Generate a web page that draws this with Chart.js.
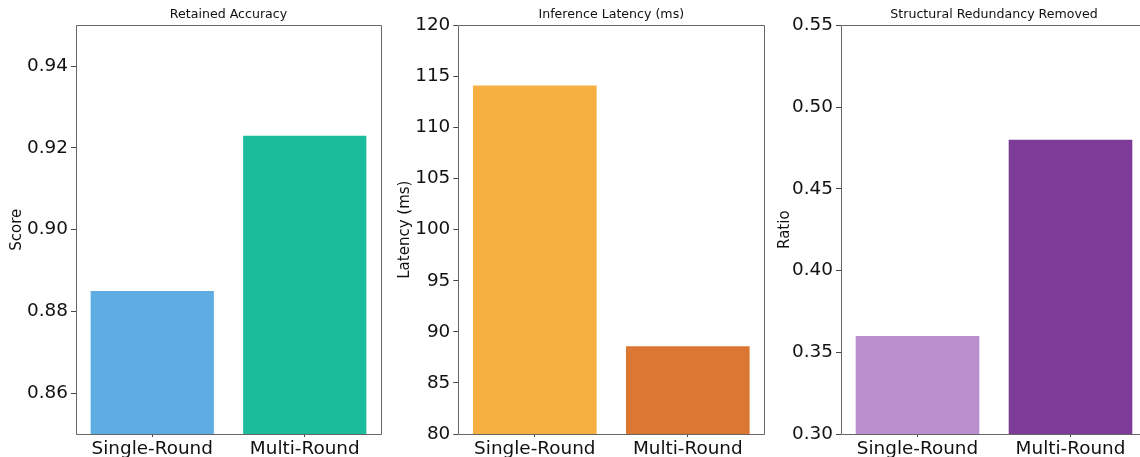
<!DOCTYPE html>
<html>
<head>
<meta charset="utf-8">
<script src="https://cdn.jsdelivr.net/npm/chart.js@4.4.1/dist/chart.umd.min.js"></script>
<style>
  html, body { margin: 0; padding: 0; background: #fff; overflow: hidden; }
  body { width: 1140px; height: 457px; position: relative; }
  .panel { position: absolute; top: 0; height: 457px; }
</style>
</head>
<body>
<div class="panel" style="left:0px;width:385px"><canvas id="c1"></canvas></div>
<div class="panel" style="left:385px;width:385px"><canvas id="c2"></canvas></div>
<div class="panel" style="left:770px;width:370px;overflow:hidden"><div style="width:400px;height:457px;position:relative"><canvas id="c3"></canvas></div></div>
<script>
// Shared categories
const methods = ['Single-Round', 'Multi-Round'];

// Retained accuracy
const accuracyValues = [0.885, 0.923];
const accuracyColors = ['#5DADE2', '#1ABC9C'];
const accuracyTicks = [0.86, 0.88, 0.90, 0.92, 0.94];

// Inference latency (ms)
const latencyValues = [114.1, 88.6];
const latencyColors = ['#F5B041', '#DC7633'];
const latencyTicks = [80, 85, 90, 95, 100, 105, 110, 115, 120];

// Structural redundancy removed
const redundancyValues = [0.36, 0.48];
const redundancyColors = ['#BB8FCE', '#7D3C98'];
const redundancyTicks = [0.30, 0.35, 0.40, 0.45, 0.50, 0.55];

const FONT = 'DejaVu Sans';

// Draws the spines around the plot area
const framePlugin = {
  id: 'frame',
  afterDatasetsDraw(chart, args, opts) {
    const { ctx, chartArea: a } = chart;
    const l = Math.round(a.left) + 0.5, t = Math.round(a.top) + 0.5;
    const r = Math.round(a.right) + 0.5, b = Math.round(a.bottom) + 0.5;
    ctx.save();
    ctx.strokeStyle = '#666';
    ctx.lineWidth = 1;
    ctx.beginPath();
    ctx.moveTo(r, t); ctx.lineTo(l, t); ctx.lineTo(l, b); ctx.lineTo(r, b);
    if (opts.right !== false) { ctx.moveTo(r, t); ctx.lineTo(r, b); }
    ctx.stroke();
    ctx.restore();
  }
};

function makePanel(id, opts) {
  const area = opts.area; // plot-area placement inside the canvas
  new Chart(document.getElementById(id), {
    type: 'bar',
    data: {
      labels: methods,
      datasets: [{
        data: opts.values,
        backgroundColor: opts.colors,
        borderWidth: 0,
        barPercentage: 0.808,
        categoryPercentage: 1.0
      }]
    },
    options: {
      responsive: true,
      maintainAspectRatio: false,
      animation: false,
      layout: { padding: { left: area.pad, right: area.right, top: 0, bottom: 0 } },
      plugins: {
        legend: { display: false },
        tooltip: { enabled: false },
        frame: { right: opts.rightSpine !== false },
        title: {
          display: true,
          text: opts.title,
          fullSize: false,
          color: '#111',
          font: { family: FONT, size: 12.6, weight: 'normal' },
          padding: { top: 7.4, bottom: 2.8 }
        }
      },
      scales: {
        x: {
          type: 'category',
          offset: true,
          afterFit(s) { s.height = 23; },
          grid: { display: true, offset: false, drawOnChartArea: false, drawTicks: true, tickLength: 3, color: '#444' },
          border: { display: false },
          ticks: { color: '#111', padding: 1, font: { family: FONT, size: 18.4 } }
        },
        y: {
          type: 'linear',
          min: opts.min,
          max: opts.max,
          afterFit(s) { s.width = area.left - area.pad; },
          afterBuildTicks(s) { s.ticks = opts.ticks.map(v => ({ value: v })); },
          grid: { display: true, drawOnChartArea: false, drawTicks: true, tickLength: 5, color: '#444' },
          border: { display: false },
          title: {
            display: true,
            text: opts.ylabel,
            color: '#111',
            font: { family: FONT, size: 15 },
            padding: { top: 0, bottom: 0 }
          },
          ticks: {
            color: '#111',
            padding: 3,
            font: { family: FONT, size: 18.4 },
            callback: v => Number(v).toFixed(opts.decimals)
          }
        }
      }
    },
    plugins: [framePlugin]
  });
}

makePanel('c1', {
  title: 'Retained Accuracy', ylabel: 'Score',
  values: accuracyValues, colors: accuracyColors, ticks: accuracyTicks,
  min: 0.85, max: 0.95, decimals: 2,
  area: { pad: 8.2, left: 76, right: 4 }
});
makePanel('c2', {
  title: 'Inference Latency (ms)', ylabel: 'Latency (ms)',
  values: latencyValues, colors: latencyColors, ticks: latencyTicks,
  min: 80, max: 120, decimals: 0,
  area: { pad: 11.2, left: 73.3, right: 5.7 }
});
makePanel('c3', {
  title: 'Structural Redundancy Removed', ylabel: 'Ratio',
  values: redundancyValues, colors: redundancyColors, ticks: redundancyTicks,
  min: 0.30, max: 0.55, decimals: 2, rightSpine: false,
  area: { pad: 6.2, left: 71, right: 23 }
});
</script>
</body>
</html>
